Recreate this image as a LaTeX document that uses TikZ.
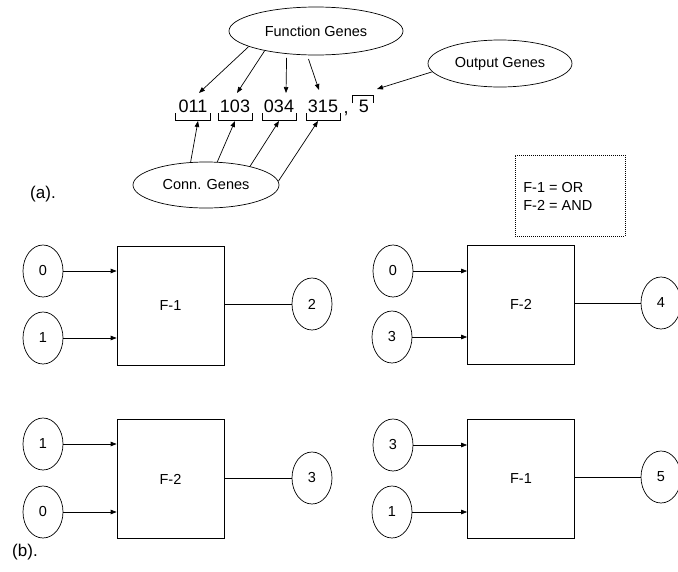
\documentclass[tikz,border=0pt]{standalone}
\usepackage{fontspec}
\setmainfont{Liberation Sans}
\usetikzlibrary{arrows.meta,shapes.geometric}
\begin{document}
\begin{tikzpicture}[x=1pt,y=-1pt,line width=0.7pt,
  every node/.style={font=\fontsize{14.5}{18}\selectfont},
  lbl/.style={ellipse,draw,inner sep=0pt},
  gate/.style={draw,minimum width=107pt,minimum height=119pt,inner sep=0pt},
  io/.style={ellipse,draw,minimum width=40pt,minimum height=52pt,inner sep=0pt},
  arr/.style={-{Triangle[length=6pt,width=4.5pt]}},
  code/.style={font=\fontsize{18}{20}\selectfont,inner sep=0pt},
  tag/.style={font=\fontsize{17}{20}\selectfont,inner sep=0pt}]
\useasboundingbox (0,0) rectangle (678,571);
\clip (0,0) rectangle (678,571);

% ---------- (a) ----------
\node[lbl,minimum width=174pt,minimum height=48pt] (fg) at (316,31) {Function Genes};
\node[lbl,minimum width=144pt,minimum height=47pt] (og) at (500,63.5) {Output Genes};
\node[lbl,minimum width=146pt,minimum height=46pt] (cg) at (206,185) {Conn. Genes};

\node[code] (g1) at (193,106.5) {011};
\node[code] (g2) at (235,106.5) {103};
\node[code] (g3) at (279,106.5) {034};
\node[code] (g4) at (323,106.5) {315};
\node[code,anchor=base] (gc) at (346,113) {,};
\node[code] (g5) at (364,106.5) {5};

% brackets
\draw (175,113) |- (210,120) -- (210,113);
\draw (218,113) |- (252,120) -- (252,113);
\draw (262,113) |- (296,120) -- (296,113);
\draw (306,113) |- (340,120) -- (340,113);
\draw (352,103) |- (373,95) -- (373,103);

% arrow targets
\coordinate (t1) at (199,93);
\coordinate (t2) at (237,93);
\coordinate (t3) at (286,93);
\coordinate (t4) at (319,90);
\coordinate (t5) at (377,89);
\coordinate (b1) at (198,121);
\coordinate (b2) at (235,121);
\coordinate (b3) at (279,121);
\coordinate (b4) at (318,121);

\draw[arr] (fg.193) -- (t1);
\draw[arr] (fg.201) -- (t2);
\draw[arr,shorten <=4pt] (fg.218) -- (t3);
\draw[arr,shorten <=4pt] (fg.250) -- (t4);
\draw[arr] (og.187) -- (t5);

\draw[arr] (cg.124) -- (b1);
\draw[arr] (cg.64) -- (b2);
\draw[arr] (cg.23) -- (b3);
\draw[arr] (cg.3) -- (b4);

\node[tag] (la) at (43,194) {(a).};

% legend
\node[draw,dash pattern=on 1pt off 1pt,line width=0.6pt,minimum width=110pt,minimum height=81pt,inner sep=0pt] (leg) at (570,195.5) {};
\node[align=left,anchor=west,inner sep=0pt] (legt) at (523,196) {F-1 = OR\\F-2 = AND};

% ---------- (b) ----------
% block 1
\node[gate] (B1) at (170.5,305.5) {F-1};
\node[io] (i10) at (43,271) {0};
\node[io] (i11) at (43,338) {1};
\node[io] (o1) at (312,304) {2};
\draw[arr] (i10) -- (i10 -| B1.west);
\draw[arr] (i11) -- (i11 -| B1.west);
\draw (B1.east |- o1) -- (o1);

% block 2
\node[gate] (B2) at (521,304.5) {F-2};
\node[io] (i20) at (393,271) {0};
\node[io] (i21) at (392,337) {3};
\node[io] (o2) at (661,303) {4};
\draw[arr] (i20) -- (i20 -| B2.west);
\draw[arr] (i21) -- (i21 -| B2.west);
\draw (B2.east |- o2) -- (o2);

% block 3
\node[gate] (B3) at (170.5,479) {F-2};
\node[io] (i30) at (43,444) {1};
\node[io] (i31) at (43,512) {0};
\node[io] (o3) at (312,478) {3};
\draw[arr] (i30) -- (i30 -| B3.west);
\draw[arr] (i31) -- (i31 -| B3.west);
\draw (B3.east |- o3) -- (o3);

% block 4
\node[gate] (B4) at (521,479) {F-1};
\node[io] (i40) at (393,445) {3};
\node[io] (i41) at (392,512) {1};
\node[io] (o4) at (661,477) {5};
\draw[arr] (i40) -- (i40 -| B4.west);
\draw[arr] (i41) -- (i41 -| B4.west);
\draw (B4.east |- o4) -- (o4);

\node[tag] (lb) at (25,552) {(b).};
\end{tikzpicture}
\end{document}
